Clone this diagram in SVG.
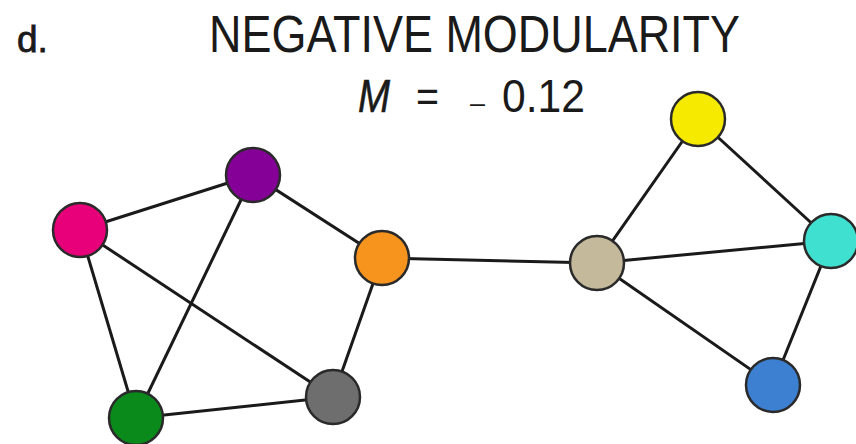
<svg xmlns="http://www.w3.org/2000/svg" width="856" height="444" viewBox="0 0 856 444">
<style>
.t{font-family:"Liberation Sans",Arial,sans-serif;fill:#1a1a1a}
.e line{stroke:#1a1a1a;stroke-width:3}
.n{stroke:#2a2a2a;stroke-width:2.5}
</style>
<rect width="856" height="444" fill="#fff"/>
<text class="t" x="17" y="52" font-size="37" stroke="#1a1a1a" stroke-width="0.8">d.</text>
<text class="t" x="209" y="52" font-size="51" textLength="531" lengthAdjust="spacingAndGlyphs">NEGATIVE MODULARITY</text>
<g id="formula">
<text class="t" x="358" y="112" font-size="47" font-style="italic" stroke="#1a1a1a" stroke-width="0.6" textLength="32" lengthAdjust="spacingAndGlyphs">M</text>
<text class="t" x="416" y="112" font-size="44" textLength="23" lengthAdjust="spacingAndGlyphs">=</text>
<text class="t" x="470" y="112" font-size="28" textLength="15" lengthAdjust="spacingAndGlyphs">–</text>
<text class="t" x="502" y="112" font-size="47" textLength="83" lengthAdjust="spacingAndGlyphs">0.12</text>
</g>
<g class="e" id="connectors">
<line x1="80" y1="230" x2="253" y2="175"/>
<line x1="80" y1="230" x2="136" y2="418"/>
<line x1="80" y1="230" x2="333" y2="397"/>
<line x1="253" y1="175" x2="136" y2="418"/>
<line x1="253" y1="175" x2="382" y2="258"/>
<line x1="382" y1="258" x2="333" y2="397"/>
<line x1="333" y1="397" x2="136" y2="418"/>
<line x1="382" y1="258" x2="597" y2="263"/>
<line x1="597" y1="263" x2="698" y2="119"/>
<line x1="597" y1="263" x2="831" y2="241"/>
<line x1="597" y1="263" x2="773" y2="385"/>
<line x1="698" y1="119" x2="831" y2="241"/>
<line x1="831" y1="241" x2="773" y2="385"/>
</g>
<g id="pink"><circle class="n" cx="80" cy="230" r="27" fill="#e8007a"/></g>
<g id="purple"><circle class="n" cx="253" cy="175" r="27" fill="#850096"/></g>
<g id="orange"><circle class="n" cx="382" cy="258" r="27" fill="#f7941e"/></g>
<g id="gray"><circle class="n" cx="333" cy="397" r="27" fill="#6e6e6e"/></g>
<g id="green"><circle class="n" cx="136" cy="418" r="27" fill="#0b8a1c"/></g>
<g id="yellow"><circle class="n" cx="698" cy="119" r="27" fill="#f6ea00"/></g>
<g id="tan"><circle class="n" cx="597" cy="263" r="27" fill="#c5b99b"/></g>
<g id="cyan"><circle class="n" cx="831" cy="241" r="27" fill="#40e0d0"/></g>
<g id="blue"><circle class="n" cx="773" cy="385" r="27" fill="#3d7fd0"/></g>
</svg>
